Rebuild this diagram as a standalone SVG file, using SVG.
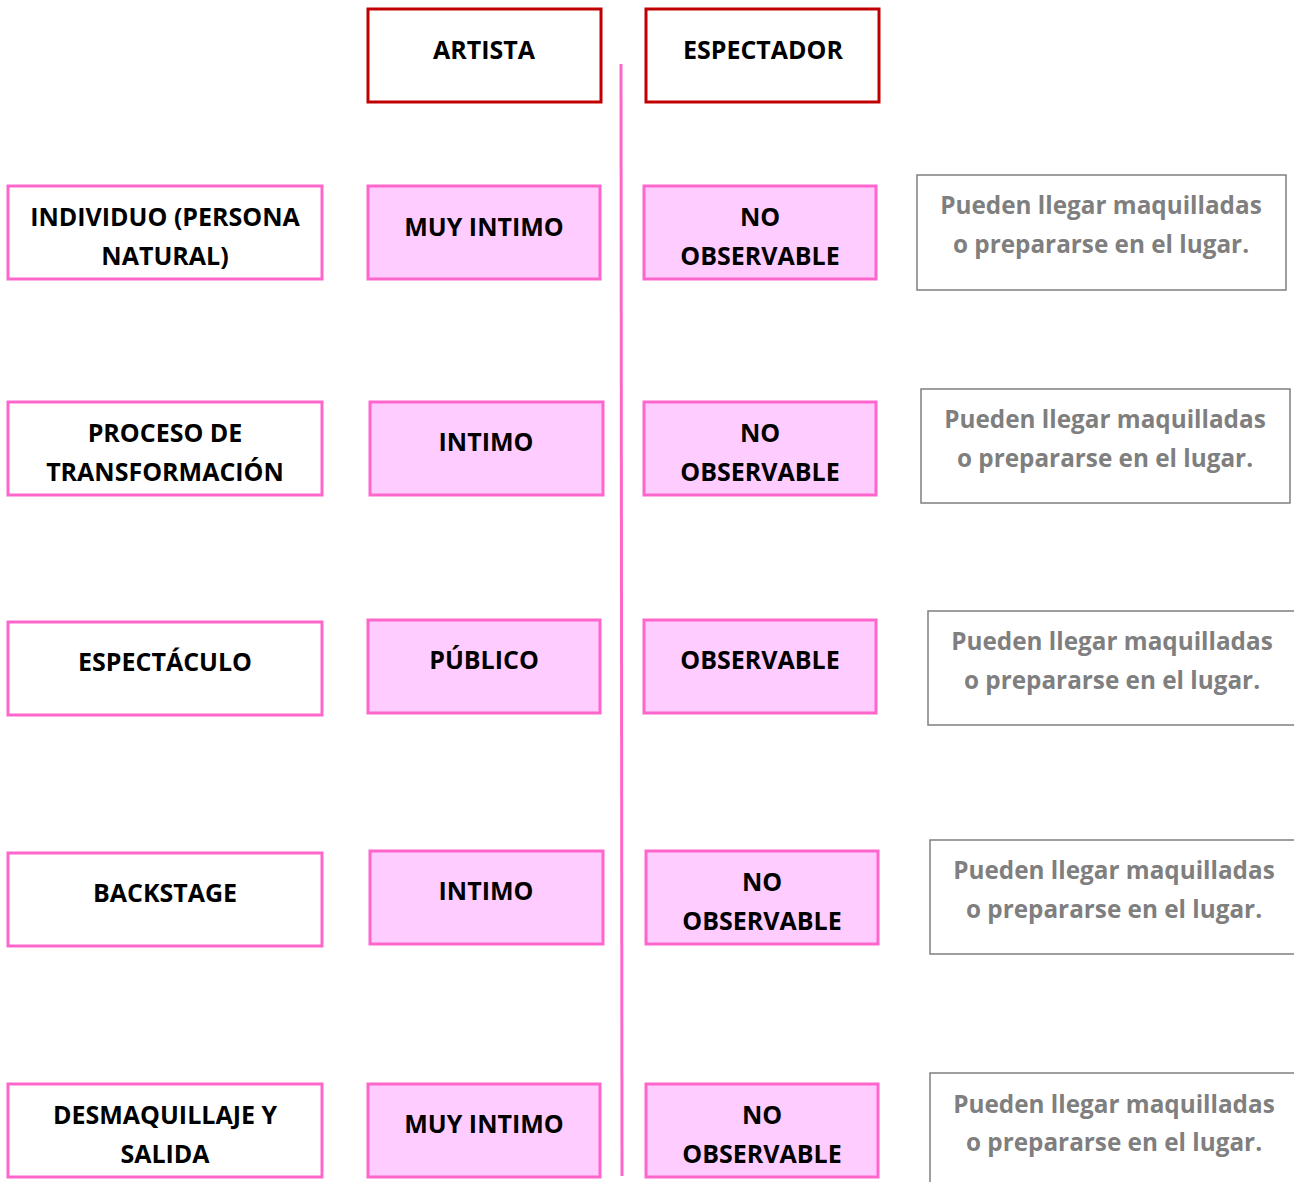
<svg xmlns="http://www.w3.org/2000/svg" width="1294" height="1182" viewBox="0 0 1294 1182">
<style>
text{font-family:"Open Sans","Liberation Sans",sans-serif;font-weight:700;font-size:25px;text-anchor:middle;fill:#000}
.hdr{fill:#fff;stroke:#C00000;stroke-width:3}
.lbl{fill:#fff;stroke:#FF66CC;stroke-width:3}
.pk{fill:#FFCCFF;stroke:#FF66CC;stroke-width:3}
.gr{fill:#fff;stroke:#7F7F7F;stroke-width:1.5}
.gt{fill:#7F7F7F;font-size:24.3px}
</style>
<rect width="1294" height="1182" fill="#fff"/>
<g id="connectors">
<line x1="621" y1="64" x2="622" y2="1176" stroke="#FF66CC" stroke-width="3"/>
</g>
<g id="artista"><rect class="hdr" x="368" y="9" width="233" height="93"/><text x="484" y="59">ARTISTA</text></g>
<g id="espectador"><rect class="hdr" x="646" y="9" width="233" height="93"/><text x="763" y="59">ESPECTADOR</text></g>

<g id="individuo"><rect class="lbl" x="8" y="186" width="314" height="93"/><text x="165" y="226">INDIVIDUO (PERSONA</text><text x="165" y="265">NATURAL)</text></g>
<g id="r1a"><rect class="pk" x="368" y="186" width="232" height="93"/><text x="484" y="236">MUY INTIMO</text></g>
<g id="r1e"><rect class="pk" x="644" y="186" width="232" height="93"/><text x="760" y="226">NO</text><text x="760" y="265">OBSERVABLE</text></g>
<g id="r1n"><rect class="gr" x="917" y="175" width="369" height="115"/><text class="gt" x="1101" y="214">Pueden llegar maquilladas</text><text class="gt" x="1101" y="253">o prepararse en el lugar.</text></g>

<g id="proceso"><rect class="lbl" x="8" y="402" width="314" height="93"/><text x="165" y="442">PROCESO DE</text><text x="165" y="481">TRANSFORMACIÓN</text></g>
<g id="r2a"><rect class="pk" x="370" y="402" width="233" height="93"/><text x="486" y="451">INTIMO</text></g>
<g id="r2e"><rect class="pk" x="644" y="402" width="232" height="93"/><text x="760" y="442">NO</text><text x="760" y="481">OBSERVABLE</text></g>
<g id="r2n"><rect class="gr" x="921" y="389" width="369" height="114"/><text class="gt" x="1105" y="428">Pueden llegar maquilladas</text><text class="gt" x="1105" y="467">o prepararse en el lugar.</text></g>

<g id="espectaculo"><rect class="lbl" x="8" y="622" width="314" height="93"/><text x="165" y="671">ESPECTÁCULO</text></g>
<g id="r3a"><rect class="pk" x="368" y="620" width="232" height="93"/><text x="484" y="669">PÚBLICO</text></g>
<g id="r3e"><rect class="pk" x="644" y="620" width="232" height="93"/><text x="760" y="669">OBSERVABLE</text></g>
<g id="r3n"><rect class="gr" x="928" y="611" width="372" height="114"/><text class="gt" x="1112" y="650">Pueden llegar maquilladas</text><text class="gt" x="1112" y="689">o prepararse en el lugar.</text></g>

<g id="backstage"><rect class="lbl" x="8" y="853" width="314" height="93"/><text x="165" y="902">BACKSTAGE</text></g>
<g id="r4a"><rect class="pk" x="370" y="851" width="233" height="93"/><text x="486" y="900">INTIMO</text></g>
<g id="r4e"><rect class="pk" x="646" y="851" width="232" height="93"/><text x="762" y="891">NO</text><text x="762" y="930">OBSERVABLE</text></g>
<g id="r4n"><rect class="gr" x="930" y="840" width="370" height="114"/><text class="gt" x="1114" y="879">Pueden llegar maquilladas</text><text class="gt" x="1114" y="918">o prepararse en el lugar.</text></g>

<g id="desmaquillaje"><rect class="lbl" x="8" y="1084" width="314" height="93"/><text x="165" y="1124">DESMAQUILLAJE Y</text><text x="165" y="1163">SALIDA</text></g>
<g id="r5a"><rect class="pk" x="368" y="1084" width="232" height="93"/><text x="484" y="1133">MUY INTIMO</text></g>
<g id="r5e"><rect class="pk" x="646" y="1084" width="232" height="93"/><text x="762" y="1124">NO</text><text x="762" y="1163">OBSERVABLE</text></g>
<g id="r5n"><rect class="gr" x="930" y="1073" width="370" height="120"/><text class="gt" x="1114" y="1113">Pueden llegar maquilladas</text><text class="gt" x="1114" y="1151">o prepararse en el lugar.</text></g>
</svg>
